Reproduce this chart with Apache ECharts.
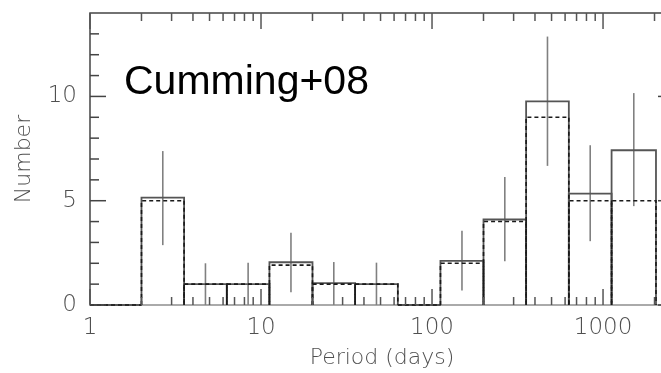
<!DOCTYPE html>
<html>
<head>
<meta charset="utf-8">
<script src="https://cdn.jsdelivr.net/npm/echarts@6/dist/echarts.min.js"></script>
<style>html,body{margin:0;padding:0;background:#fff}#c{width:661px;height:373px}</style>
</head>
<body>
<div id="c"></div>
<script>
// ---- data ----
const binEdges = [1, 2, 3.55, 6.31, 11.2, 20, 35.5, 63.1, 112, 200, 355, 631, 1122, 2040];
const countsSolid = [0, 5.15, 1, 1, 2.05, 1.05, 1, 0, 2.12, 4.1, 9.76, 5.34, 7.42];
const countsDashed = [0, 5, 1, 1, 1.91, 1, 1, 0, 2, 4, 9, 5, 5];
const errLow = [null, 2.87, 0, 0, 0.61, 0, 0, null, 0.69, 2.1, 6.67, 3.06, 4.74];
const errHigh = [null, 7.38, 2.0, 2.03, 3.46, 2.06, 2.03, null, 3.56, 6.14, 12.87, 7.66, 10.16];
const xMajorTicks = [1, 10, 100, 1000];
const xTickLabels = ['1', '10', '100', '1000'];
const xMinorTicks = [2, 3, 4, 5, 6, 7, 8, 9, 20, 30, 40, 50, 60, 70, 80, 90, 200, 300, 400, 500, 600, 700, 800, 900, 2000];
const yMajorTicks = [0, 5, 10];
const yTickLabels = ['0', '5', '10'];
const yMinorTicks = [1, 2, 3, 4, 6, 7, 8, 9, 11, 12, 13];
const xMin = 1, xMax = 2600, yMin = 0, yMax = 14;
const annotation = 'Cumming+08';
const xName = 'Period (days)';
const yName = 'Number';

// ---- build series data ----
const solidData = countsSolid.map((v, i) => [binEdges[i], binEdges[i + 1], v]);
const dashedData = countsDashed.map((v, i) => [binEdges[i], binEdges[i + 1], v]);
const errData = [];
errLow.forEach((lo, i) => {
  if (lo === null) return;
  errData.push([Math.sqrt(binEdges[i] * binEdges[i + 1]), lo, errHigh[i]]);
});
const xTickData = xMajorTicks.map(v => [v, 1]).concat(xMinorTicks.map(v => [v, 0]));
const yTickData = yMajorTicks.map(v => [v, 1]).concat(yMinorTicks.map(v => [v, 0]));

const FONT = 'DejaVu Sans';
const LABEL_COLOR = '#505050';
const LABEL_WEIGHT = 200;

function stepRect(stroke, width, dash) {
  return function (params, api) {
    const x0 = api.value(0), x1 = api.value(1), v = api.value(2);
    const pts = [api.coord([x0, 0]), api.coord([x0, v]), api.coord([x1, v]), api.coord([x1, 0])];
    return {
      type: 'polyline',
      shape: { points: pts },
      style: { stroke: stroke, lineWidth: width, fill: 'none', lineDash: dash }
    };
  };
}

const chart = echarts.init(document.getElementById('c'), null, { renderer: 'canvas' });
chart.setOption({
  animation: false,
  backgroundColor: '#fff',
  title: {
    text: annotation, left: 124, top: 62, padding: 0,
    textStyle: { fontFamily: 'Liberation Sans', fontSize: 41, fontWeight: 'normal', color: '#000' }
  },
  grid: {
    left: 90, top: 13, width: 584, height: 292, outerBoundsMode: 'none', containLabel: false,
    show: true, borderColor: '#444', borderWidth: 1.5, backgroundColor: 'transparent'
  },
  xAxis: {
    type: 'log', logBase: 10, min: xMin, max: xMax,
    name: xName, nameLocation: 'middle', nameGap: 42,
    nameTextStyle: { fontFamily: FONT, fontSize: 22, color: LABEL_COLOR, fontWeight: LABEL_WEIGHT },
    axisLine: { show: true, lineStyle: { color: '#aaa', width: 2 } },
    axisTick: { show: false },
    splitLine: { show: false },
    minorTick: { show: false },
    axisLabel: {
      fontFamily: FONT, fontSize: 23, color: LABEL_COLOR, fontWeight: LABEL_WEIGHT, margin: 12, showMaxLabel: false,
      formatter: function (v) {
        for (let i = 0; i < xMajorTicks.length; i++) {
          if (Math.abs(v - xMajorTicks[i]) / xMajorTicks[i] < 1e-6) return xTickLabels[i];
        }
        return '';
      }
    }
  },
  yAxis: {
    type: 'value', min: yMin, max: yMax, interval: 5,
    name: yName, nameLocation: 'middle', nameGap: 55,
    nameTextStyle: { fontFamily: FONT, fontSize: 22, color: LABEL_COLOR, fontWeight: LABEL_WEIGHT },
    axisLine: { show: false },
    axisTick: { show: false },
    splitLine: { show: false },
    axisLabel: {
      fontFamily: FONT, fontSize: 23, color: LABEL_COLOR, fontWeight: LABEL_WEIGHT, margin: 13, showMaxLabel: false,
      formatter: function (v) {
        const i = yMajorTicks.indexOf(v);
        return i >= 0 ? yTickLabels[i] : '';
      }
    }
  },
  series: [
    {
      type: 'custom', name: 'errors', z: 2, silent: true,
      data: errData, encode: { x: 0, y: [1, 2] },
      renderItem: function (params, api) {
        const a = api.coord([api.value(0), api.value(1)]);
        const b = api.coord([api.value(0), api.value(2)]);
        return {
          type: 'line', shape: { x1: a[0], y1: a[1], x2: b[0], y2: b[1] },
          style: { stroke: '#808080', lineWidth: 1.6 }
        };
      }
    },
    {
      type: 'custom', name: 'solid', z: 3, silent: true,
      data: solidData, encode: { x: [0, 1], y: 2 },
      renderItem: stepRect('#555', 1.8, null)
    },
    {
      type: 'custom', name: 'dashed', z: 4, silent: true,
      data: dashedData, encode: { x: [0, 1], y: 2 },
      renderItem: stepRect('#1a1a1a', 1.6, [4, 3])
    },
    {
      type: 'custom', name: 'xticks', z: 5, silent: true,
      data: xTickData, encode: { x: 0 },
      renderItem: function (params, api) {
        const len = api.value(1) ? 16 : 8;
        const b = api.coord([api.value(0), yMin]);
        const t = api.coord([api.value(0), yMax]);
        const s = { stroke: '#555', lineWidth: 1.5 };
        return {
          type: 'group', children: [
            { type: 'line', shape: { x1: b[0], y1: b[1], x2: b[0], y2: b[1] - len }, style: s },
            { type: 'line', shape: { x1: t[0], y1: t[1], x2: t[0], y2: t[1] + len }, style: s }
          ]
        };
      }
    },
    {
      type: 'custom', name: 'yticks', z: 5, silent: true,
      data: yTickData, encode: { y: 0 },
      renderItem: function (params, api) {
        const len = api.value(1) ? 16 : 9;
        const l = api.coord([xMin, api.value(0)]);
        const r = api.coord([xMax, api.value(0)]);
        const s = { stroke: '#444', lineWidth: 1.5 };
        return {
          type: 'group', children: [
            { type: 'line', shape: { x1: l[0], y1: l[1], x2: l[0] + len, y2: l[1] }, style: s },
            { type: 'line', shape: { x1: r[0], y1: r[1], x2: r[0] - len, y2: r[1] }, style: s }
          ]
        };
      }
    }
  ]
});
</script>
</body>
</html>
